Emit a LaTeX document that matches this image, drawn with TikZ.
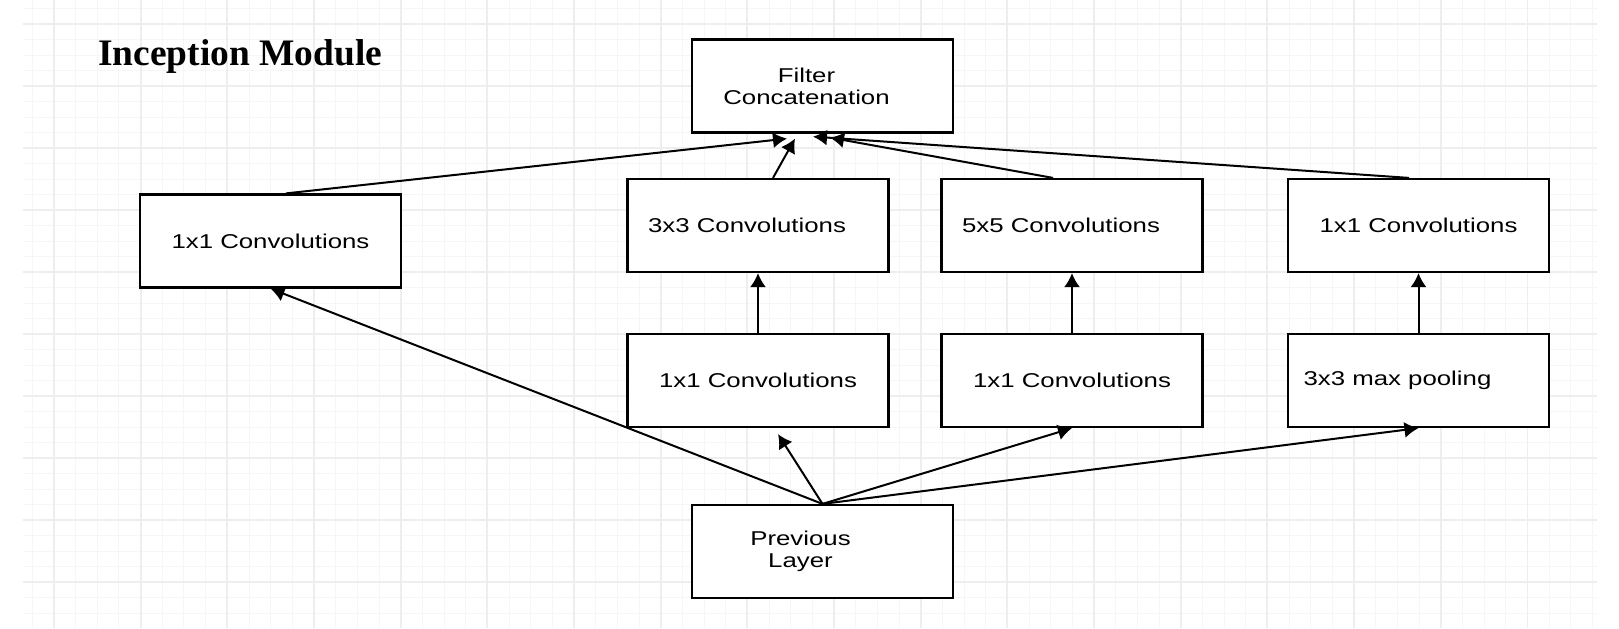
\documentclass[tikz,border=0pt]{standalone}
\usepackage{fontspec}
\usetikzlibrary{arrows.meta}
\newfontfamily\boxfont[FakeStretch=1.29]{Liberation Sans}
\newfontfamily\titlefont{Liberation Serif}
\begin{document}
\begin{tikzpicture}[x=0.5pt, y=-0.5pt]

\tikzset{vertex/.style = {shape=rectangle, draw, fill=white, line width=1.1pt, minimum width=130.5pt, minimum height=46.5pt, align=center, font=\boxfont\fontsize{10}{11}\selectfont}}
\tikzset{edge/.style = {->, > = {Latex[length=7pt, width=8pt]}, line width=1pt}}
\tikzset{minor/.style = {gray!7, line width=0.5pt}}
\tikzset{major/.style = {gray!13, line width=0.9pt}}

% grid
\useasboundingbox (0,0) rectangle (1619,628);
\fill[white] (0,0) rectangle (1619,628);
\foreach \i in {0,...,72} \draw[minor] ({32.3+21.67*\i},0) -- ({32.3+21.67*\i},628);
\foreach \j in {0,...,39} \draw[minor] (23,{8.5+15.5*\j}) -- (1597,{8.5+15.5*\j});
\foreach \i in {0,...,17} \draw[major] ({54+86.67*\i},0) -- ({54+86.67*\i},628);
\foreach \j in {0,...,9} \draw[major] (23,{24+62*\j}) -- (1597,{24+62*\j});

% title
\node[anchor=base west, inner sep=0pt, font=\titlefont\bfseries\fontsize{18.7}{22}\selectfont] (title) at (98,65) {Inception Module};

% vertices
\node[vertex] (concat) at (822.5,86) {Filter\hspace*{16pt}\\Concatenation\hspace*{16pt}};
\node[vertex] (a1) at (270.5,241) {1x1 Convolutions};
\node[vertex] (b3) at (758,225.5) {3x3 Convolutions\hspace*{11pt}};
\node[vertex] (c5) at (1072,225.5) {5x5 Convolutions\hspace*{11pt}};
\node[vertex] (d1) at (1418.5,225.5) {1x1 Convolutions};
\node[vertex] (b1) at (758,380.5) {1x1 Convolutions};
\node[vertex] (c1) at (1072,380.5) {1x1 Convolutions};
\node[vertex] (dpool) at (1418.5,380.5) {3x3 max pooling\hspace*{21pt}};
\node[vertex] (prev) at (822.5,551.5) {Previous\hspace*{22pt}\\Layer\hspace*{22pt}};

%edges
\draw[edge] ([xshift=7.75pt]a1.north) -- ([xshift=-17.75pt, yshift=-2.5pt]concat.south);
\draw[edge] ([xshift=7.5pt]b3.north) -- ([xshift=-13.75pt, yshift=-2.5pt]concat.south);
\draw[edge] ([xshift=-9.5pt]c5.north) -- ([xshift=3.75pt, yshift=-2pt]concat.south);
\draw[edge] ([xshift=-4.75pt]d1.north) -- ([xshift=-4.75pt, yshift=-1.5pt]concat.south);

\draw[edge] (b1) -- (b3);
\draw[edge] (c1) -- (c5);
\draw[edge] (dpool) -- (d1);

\draw[edge] (prev.north) -- (a1.south);
\draw[edge] (prev.north) -- ([xshift=10pt, yshift=-3pt]b1.south);
\draw[edge] (prev.north) -- (c1.south);
\draw[edge] (prev.north) -- (dpool.south);

\end{tikzpicture}
\end{document}
